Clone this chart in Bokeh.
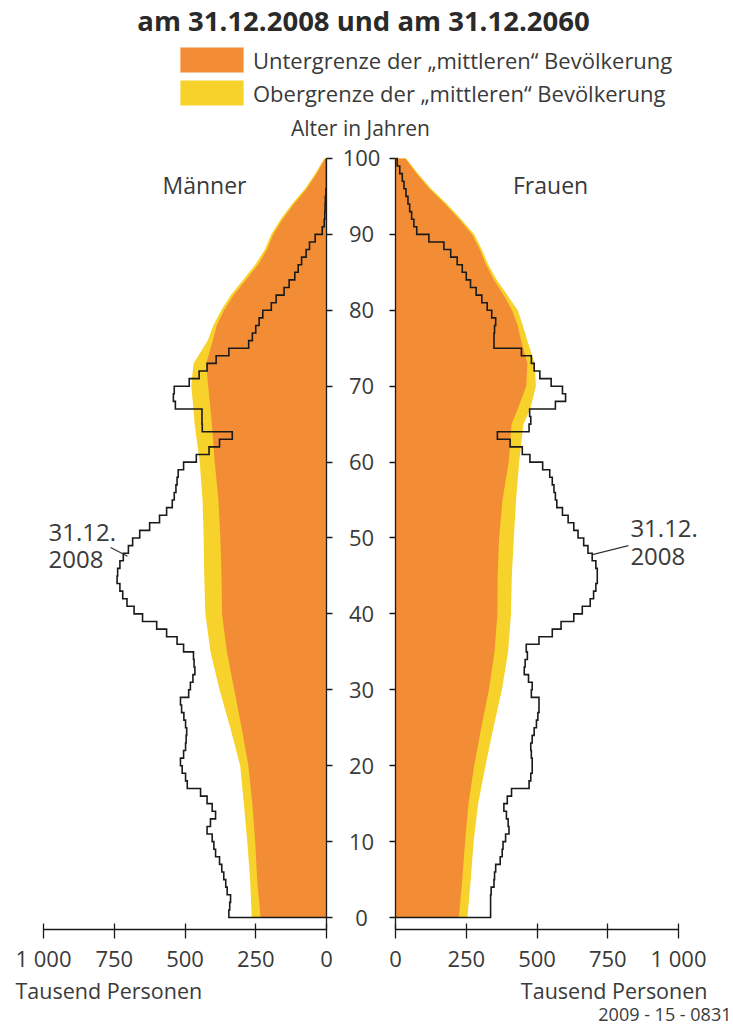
import numpy as np
from bokeh.plotting import figure
from bokeh.layouts import column, row
from bokeh.models import (Range1d, FixedTicker, LinearAxis, Legend, LegendItem,
                          ColumnDataSource, CustomLabelingPolicy)
from bokeh.core.properties import value
from bokeh.embed import file_html
from bokeh.resources import INLINE

# ---------------- data ----------------
title_text = "am 31.12.2008 und am 31.12.2060"
legend_low = "Untergrenze der \u201emittleren\u201c Bev\u00f6lkerung"
legend_high = "Obergrenze der \u201emittleren\u201c Bev\u00f6lkerung"
axis_title_age = "Alter in Jahren"
label_men = "M\u00e4nner"
label_women = "Frauen"
label_2008_a = "31.12."
label_2008_b = "2008"
unit_label = "Tausend Personen"
source_code = "2009 - 15 - 0831"

# population 31.12.2008, thousands, single ages 0..99
men_2008 = [
    345, 342, 339, 351, 356, 363, 370, 378, 392, 398,
    404, 422, 410, 392, 404, 422, 445, 492, 498, 510,
    516, 505, 498, 496, 494, 498, 504, 512, 516, 487,
    481, 472, 465, 468, 470, 505, 528, 565, 600, 650,
    680, 705, 720, 730, 740, 738, 730, 718, 700, 685,
    660, 625, 590, 565, 545, 538, 532, 528, 524, 505,
    460, 415, 378, 333, 439, 440, 440, 534, 541, 538,
    485, 450, 422, 390, 345, 275, 262, 250, 238, 225,
    195, 178, 150, 132, 112, 100, 88, 72, 60, 40,
    15, 8, 6, 5, 4, 2, 0, 0, 0, 0,
]
women_2008 = [
    336, 336, 336, 338, 348, 350, 354, 370, 377, 380,
    389, 401, 398, 392, 383, 395, 410, 472, 478, 483,
    483, 480, 478, 483, 490, 498, 503, 507, 507, 480,
    483, 470, 455, 458, 466, 462, 507, 554, 585, 630,
    660, 688, 700, 708, 713, 713, 708, 695, 680, 665,
    645, 630, 610, 590, 570, 565, 560, 554, 545, 520,
    475, 448, 405, 360, 472, 478, 474, 565, 601, 590,
    550, 510, 490, 480, 445, 348, 348, 350, 354, 340,
    324, 305, 285, 265, 250, 236, 218, 195, 171, 118,
    75, 65, 57, 50, 44, 37, 30, 24, 15, 6,
]

# projection 31.12.2060, thousands (read at these ages)
ages_2060 = [0, 5, 10, 15, 20, 25, 30, 35, 40, 45, 50, 55, 60, 65, 67, 70,
             73, 76, 78, 80, 82, 84, 86, 88, 90, 92, 94, 96, 98, 100]
men_2060_low = [233, 245, 252, 262, 276, 300, 326, 352, 369, 371, 375, 382, 395, 405, 410, 418,
                425, 402, 388, 362, 328, 285, 242, 210, 188, 155, 115, 70, 35, 5]
men_2060_high = [264, 270, 280, 292, 305, 340, 378, 410, 428, 432, 434, 438, 448, 466, 470, 478,
                 470, 420, 400, 372, 338, 295, 252, 218, 195, 162, 122, 76, 40, 8]
women_2060_low = [224, 236, 246, 258, 278, 303, 330, 350, 360, 361, 366, 378, 400, 410, 432, 462,
                  466, 444, 432, 412, 382, 348, 320, 298, 270, 225, 175, 120, 75, 35]
women_2060_high = [254, 266, 276, 292, 318, 346, 376, 398, 408, 411, 418, 426, 437, 452, 476, 496,
                   492, 466, 450, 432, 395, 358, 328, 305, 278, 232, 182, 126, 80, 38]

age_ticks = [0, 10, 20, 30, 40, 50, 60, 70, 80, 90, 100]
pop_ticks = [0, 250, 500, 750, 1000]
pop_tick_overrides = {1000: "1 000"}

# ---------------- style / layout ----------------
FONT = "Open Sans"
TXT = "#3a3a3a"
ORANGE = "#F28D35"
YELLOW = "#F6D22A"
LINE = "#1a1a1a"

W = 733
HEAD_H = 143
ROW_TOP = HEAD_H     # page y of row top
ROW_BOTTOM = 975
ROW_H = ROW_BOTTOM - ROW_TOP
FOOT_H = 1027 - ROW_BOTTOM
AGE100 = 158         # page y of age 100
AGE0 = 919           # page y of age 0
FRAME_B = 931        # page y of x-axis
S = (AGE0 - AGE100) / 100.0
K = 0.283            # px per thousand persons

LEFT_W, MID_W = 340, 44
RIGHT_W = W - LEFT_W - MID_W
LEFT_FRAME_R = 326   # page x of zero (men)
RIGHT_FRAME_L = 395  # page x of zero (women)

y_rng = Range1d(-(FRAME_B - AGE0) / S, 100 + (AGE100 - ROW_TOP) / S)
bottom_border = ROW_BOTTOM - FRAME_B


def step_path(vals):
    v = np.asarray(vals, dtype=float)
    a = np.arange(len(v), dtype=float)
    xs = np.concatenate([[0.0], np.repeat(v, 2), [0.0]])
    ys = np.concatenate([[0.0], np.column_stack([a, a + 1]).ravel(), [float(len(v))]])
    return xs, ys


def base_fig(width, height, x_rng, y_range, **borders):
    f = figure(width=width, height=height, x_range=x_rng, y_range=y_range,
               output_backend="svg", toolbar_location=None,
               x_axis_location=None, y_axis_location=None, **borders)
    f.outline_line_color = None
    f.grid.grid_line_color = None
    f.background_fill_color = "white"
    f.border_fill_color = "white"
    return f


def style_axis(ax):
    ax.axis_line_color = LINE
    ax.axis_line_width = 1.3
    ax.major_tick_line_color = LINE
    ax.major_tick_line_width = 1.3
    ax.minor_tick_line_color = None
    ax.major_label_text_font = FONT
    ax.major_label_text_font_size = "22px"
    ax.major_label_text_color = TXT


no_labels = CustomLabelingPolicy(code="for (const i of indices) { indices.unset(i) } return indices")


def add_axes(f, y_side):
    xa = LinearAxis(ticker=FixedTicker(ticks=pop_ticks), bounds=(0, 1000),
                    major_label_overrides=pop_tick_overrides)
    style_axis(xa)
    xa.major_tick_in = 6
    xa.major_tick_out = 9
    xa.major_label_standoff = 4
    f.add_layout(xa, "below")
    ya = LinearAxis(ticker=FixedTicker(ticks=age_ticks), bounds=(y_rng.start, 100))
    style_axis(ya)
    ya.major_tick_in = 0
    ya.major_tick_out = 6
    ya.major_label_text_font_size = "1px"
    ya.major_label_standoff = 0
    ya.major_label_policy = no_labels
    f.add_layout(ya, y_side)


def draw_side(f, low, high, line_vals):
    f.harea(y=ages_2060, x1=0, x2=high, fill_color=YELLOW)
    f.harea(y=ages_2060, x1=0, x2=low, fill_color=ORANGE)
    xs, ys = step_path(line_vals)
    f.line(xs, ys, line_color=LINE, line_width=1.6, line_join="miter")


def add_text(f, x, y, txt, size, align="center", **kw):
    f.text(x=[x], y=[y], text=[txt], text_font=value(FONT), text_font_size=size,
           text_color=kw.pop("color", TXT), text_align=align, text_baseline="middle", **kw)


# ---------------- header ----------------
ph = base_fig(W, HEAD_H, Range1d(0, W), Range1d(0, HEAD_H),
              min_border_left=0, min_border_right=0, min_border_top=0, min_border_bottom=0)
add_text(ph, 363, HEAD_H - 20, title_text, "27.5px", text_font_style="bold", color="#2a2a2a")
add_text(ph, 360, HEAD_H - 127.5, axis_title_age, "21px")
r_low = ph.rect(x=np.array([np.nan]), y=np.array([np.nan]), width=1, height=1,
                fill_color=ORANGE, line_color=None)
r_high = ph.rect(x=np.array([np.nan]), y=np.array([np.nan]), width=1, height=1,
                 fill_color=YELLOW, line_color=None)
leg = Legend(items=[LegendItem(label=legend_low, renderers=[r_low]),
                    LegendItem(label=legend_high, renderers=[r_high])],
             location=(172, HEAD_H - 108), orientation="vertical",
             glyph_width=79, glyph_height=31, label_height=31,
             label_standoff=2, spacing=2, padding=0, margin=0,
             border_line_color=None, background_fill_alpha=0,
             label_text_font=FONT, label_text_font_size="22px", label_text_color=TXT)
ph.add_layout(leg)

# ---------------- men (left) ----------------
pl = base_fig(LEFT_W, ROW_H, Range1d(LEFT_FRAME_R / K, 0), y_rng,
              min_border_left=0, min_border_right=LEFT_W - LEFT_FRAME_R,
              min_border_top=0, min_border_bottom=bottom_border)
draw_side(pl, men_2060_low, men_2060_high, men_2008)
add_axes(pl, "right")
add_text(pl, 431, 96.45, label_men, "23px")
add_text(pl, 982, 50.7, label_2008_a, "24px", align="left")
add_text(pl, 982, 47.2, label_2008_b, "24px", align="left")
pl.segment(x0=[763], y0=[48.75], x1=[703], y1=[47.6], line_color="#333333", line_width=1.2)

# ---------------- age labels (middle) ----------------
pm = base_fig(MID_W, ROW_H, Range1d(0, MID_W), y_rng,
              min_border_left=0, min_border_right=0, min_border_top=0,
              min_border_bottom=bottom_border)
src_ticks = ColumnDataSource(dict(age=age_ticks, label=[str(a) for a in age_ticks]))
pm.text(x=361 - LEFT_W, y="age", text="label", source=src_ticks, text_font=value(FONT),
        text_font_size="22px", text_color=TXT, text_align="center", text_baseline="middle")

# ---------------- women (right) ----------------
right_left_border = RIGHT_FRAME_L - (LEFT_W + MID_W)
pr = base_fig(RIGHT_W, ROW_H, Range1d(0, (W - RIGHT_FRAME_L) / K), y_rng,
              min_border_left=right_left_border, min_border_right=0,
              min_border_top=0, min_border_bottom=bottom_border)
draw_side(pr, women_2060_low, women_2060_high, women_2008)
add_axes(pr, "left")
add_text(pr, 548, 96.45, label_women, "23px")
add_text(pr, 830, 51.25, label_2008_a, "24px", align="left")
add_text(pr, 830, 47.6, label_2008_b, "24px", align="left")
pr.segment(x0=[696], y0=[47.8], x1=[823], y1=[49.0], line_color="#333333", line_width=1.2)

# ---------------- footer ----------------
pf = base_fig(W, FOOT_H, Range1d(0, W), Range1d(0, FOOT_H),
              min_border_left=0, min_border_right=0, min_border_top=0, min_border_bottom=0)
add_text(pf, 15, 1027 - 990, unit_label, "21.5px", align="left")
add_text(pf, 707, 1027 - 990, unit_label, "21.5px", align="right")
add_text(pf, 731, 1027 - 1013, source_code, "18px", align="right")

layout = column(ph, row(pl, pm, pr), pf)
open("out.html", "w").write(file_html(layout, INLINE, title="Bevoelkerungspyramide"))
